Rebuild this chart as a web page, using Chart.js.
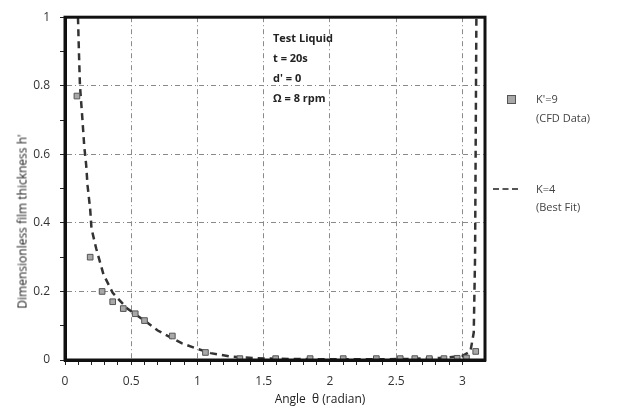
<!DOCTYPE html>
<html>
<head>
<meta charset="utf-8">
<script src="https://cdn.jsdelivr.net/npm/chart.js@4.4.1/dist/chart.umd.min.js"></script>
<style>
  html, body { margin: 0; padding: 0; background: #fff; }
  #wrap { position: relative; width: 617px; height: 416px; font-family: "Open Sans", "Liberation Sans", sans-serif; color: #222; }
  #wrap canvas { position: absolute; left: 0; top: 0; }
  .note { position: absolute; left: 273px; top: 28px; font-size: 11px; font-weight: bold; line-height: 20px; white-space: nowrap; }
  .lbl { position: absolute; font-size: 11px; color: #444; white-space: nowrap; line-height: 14px; }
  .sq { position: absolute; left: 507px; top: 95px; width: 7px; height: 7px; background: #a8a8a8; border: 1px solid #555; }
  .dash { position: absolute; left: 493px; top: 188px; width: 25px; border-top: 2px dashed #555; }
  .ytitle { position: absolute; left: -128px; top: 213px; width: 300px; text-align: center; font-size: 12px; transform: rotate(-90deg); white-space: nowrap; }
  .xtitle { position: absolute; left: 220px; top: 390px; width: 200px; text-align: center; font-size: 12px; white-space: nowrap; }
</style>
</head>
<body>
<div id="wrap">
  <canvas id="filmChart" width="617" height="416"></canvas>
  <div class="note">Test Liquid<br>t = 20s<br>d' = 0<br>&Omega; = 8 rpm</div>
  <div class="sq"></div>
  <div class="lbl" style="left:536px; top:92px;">K'=9</div>
  <div class="lbl" style="left:536px; top:111px;">(CFD Data)</div>
  <div class="dash"></div>
  <div class="lbl" style="left:536px; top:182px;">K=4</div>
  <div class="lbl" style="left:536px; top:200px;">(Best Fit)</div>
  <div class="ytitle">Dimensionless film thickness h'</div>
  <div class="xtitle">Angle &nbsp;&theta; (radian)</div>
</div>
<script>
// CFD results (squares)
const cfdTheta = [0.09, 0.19, 0.28, 0.36, 0.44, 0.53, 0.60, 0.81, 1.06, 1.32, 1.59, 1.85, 2.10, 2.35, 2.53, 2.64, 2.75, 2.86, 2.96, 3.03, 3.10];
const cfdH = [0.77, 0.30, 0.20, 0.17, 0.15, 0.135, 0.115, 0.07, 0.022, 0.004, 0.004, 0.004, 0.004, 0.004, 0.004, 0.004, 0.004, 0.004, 0.005, 0.006, 0.025];

// best fit curve (dashed)
const fitTheta = [0.098, 0.105, 0.113, 0.13, 0.145, 0.16, 0.17, 0.19, 0.20, 0.235, 0.29, 0.36, 0.47, 0.60, 0.70, 0.88, 0.98, 1.10, 1.25, 1.45, 1.70, 2.00, 2.30, 2.60, 2.85, 3.00, 3.06, 3.085, 3.095, 3.10, 3.105];
const fitH = [1.0, 0.9, 0.8, 0.71, 0.625, 0.568, 0.51, 0.44, 0.383, 0.326, 0.25, 0.196, 0.15, 0.115, 0.086, 0.049, 0.035, 0.02, 0.01, 0.005, 0.003, 0.002, 0.002, 0.003, 0.006, 0.012, 0.025, 0.08, 0.3, 0.65, 1.0];

// axis labels
const xTickLabels = ['0', '0.5', '1', '1.5', '2', '2.5', '3'];
const yTickLabels = ['0', '0.2', '0.4', '0.6', '0.8', '1'];
const xMax = 3.17;

const toPoints = (xs, ys) => xs.map((x, i) => ({ x: x, y: ys[i] }));

// major ticks carry labels and grid lines, minor ones only a tick mark
function tickSet(labels, minorStep, max) {
    const major = labels.map(parseFloat);
    const ticks = [];
    for (let v = 0; v <= max + 1e-9; v += minorStep) {
        const val = Math.round(v * 100) / 100;
        ticks.push({ value: val, major: major.some(m => Math.abs(m - val) < 1e-6) });
    }
    return ticks;
}

function labelFor(labels, value) {
    const hit = labels.find(l => Math.abs(parseFloat(l) - value) < 1e-6);
    return hit === undefined ? '' : hit;
}

// heavy frame round the plot area
const framePlugin = {
    id: 'frame',
    afterDraw(chart) {
        const { ctx, chartArea: a } = chart;
        ctx.save();
        ctx.lineWidth = 3;
        ctx.strokeStyle = '#111';
        ctx.strokeRect(a.left, a.top, a.right - a.left, a.bottom - a.top);
        ctx.restore();
    }
};

const tickFont = { family: '"Open Sans", "Liberation Sans", sans-serif', size: 12 };

const ctx = document.getElementById('filmChart').getContext('2d');
new Chart(ctx, {
    type: 'scatter',
    data: {
        datasets: [
            {
                label: "K'=9 (CFD Data)",
                data: toPoints(cfdTheta, cfdH),
                pointStyle: 'rect',
                pointRadius: 4,
                backgroundColor: '#a8a8a8',
                borderColor: '#555',
                borderWidth: 1
            },
            {
                label: 'K=4 (Best Fit)',
                data: toPoints(fitTheta, fitH),
                showLine: true,
                pointRadius: 0,
                borderColor: '#333',
                borderWidth: 2.5,
                borderDash: [7, 5]
            }
        ]
    },
    options: {
        responsive: false,
        animation: false,
        layout: { padding: { left: 0, right: 132, top: 13, bottom: 0 } },
        plugins: { legend: { display: false }, tooltip: { enabled: false } },
        scales: {
            x: {
                type: 'linear',
                min: 0,
                max: xMax,
                afterBuildTicks: s => { s.ticks = tickSet(xTickLabels, 0.1, 3); },
                afterFit: s => { s.height = 56; },
                border: { color: '#111', width: 3, dash: [5, 3, 1, 3] },
                grid: {
                    color: c => (c.tick && c.tick.major && c.tick.value > 0) ? '#8a8a8a' : 'rgba(0,0,0,0)',
                    tickColor: '#222',
                    tickLength: 5
                },
                ticks: {
                    color: '#333',
                    font: tickFont,
                    padding: 9,
                    maxRotation: 0,
                    autoSkip: false,
                    callback: v => labelFor(xTickLabels, v)
                }
            },
            y: {
                type: 'linear',
                min: 0,
                max: 1,
                afterBuildTicks: s => { s.ticks = tickSet(yTickLabels, 0.1, 1); },
                afterFit: s => { s.width = 65; },
                border: { color: '#111', width: 3, dash: [5, 3, 1, 3] },
                grid: {
                    color: c => (c.tick && c.tick.major && c.tick.value > 0 && c.tick.value < 1) ? '#8a8a8a' : 'rgba(0,0,0,0)',
                    tickColor: '#222',
                    tickLength: 5
                },
                ticks: {
                    color: '#333',
                    font: tickFont,
                    padding: 10,
                    autoSkip: false,
                    callback: v => labelFor(yTickLabels, v)
                }
            }
        }
    },
    plugins: [framePlugin]
});
</script>
</body>
</html>
